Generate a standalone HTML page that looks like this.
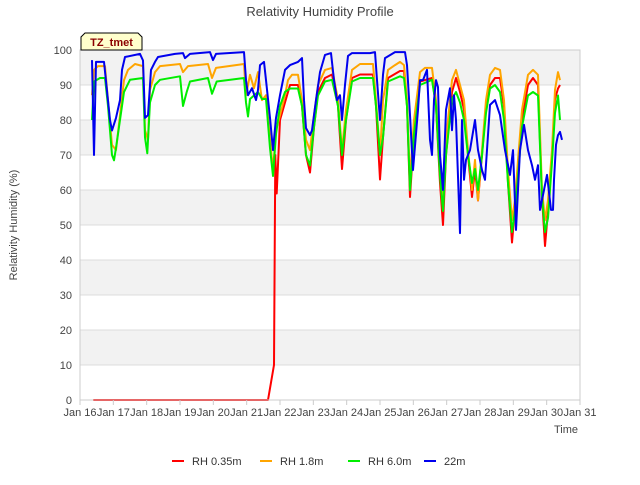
<!DOCTYPE html>
<html><head><meta charset="utf-8"><style>
body{margin:0;background:#fff;font-family:"Liberation Sans",sans-serif;}
svg text{font-family:"Liberation Sans",sans-serif;}
</style></head><body>
<svg id="c" width="640" height="480" xmlns="http://www.w3.org/2000/svg">
<text x="320" y="16" text-anchor="middle" font-size="13" fill="#444">Relativity Humidity Profile</text>
<g id="grid"></g>
<g id="series"></g>
<g id="axes"></g>
<text transform="translate(17,225) rotate(-90)" text-anchor="middle" font-size="11" fill="#444">Relativity Humidity (%)</text>
<text x="578" y="433" text-anchor="end" font-size="11" fill="#444">Time</text>
<g>
<path d="M81,50 L81,37 L85,33 L138,33 L142,37 L142,50 Z" fill="#ffffcc" stroke="#000" stroke-width="1"/>
<text x="111.5" y="46" text-anchor="middle" font-size="11" font-weight="bold" fill="#8b0000">TZ_tmet</text>
</g>
<g id="legend"></g>
</svg>
<script>
const yTicks=[0,10,20,30,40,50,60,70,80,90,100];
const xTickLabels=["Jan 16","Jan 17","Jan 18","Jan 19","Jan 20","Jan 21","Jan 22","Jan 23","Jan 24","Jan 25","Jan 26","Jan 27","Jan 28","Jan 29","Jan 30","Jan 31"];
const seriesNames=["RH 0.35m","RH 1.8m","RH 6.0m","22m"];
const rhRedT=[0.4,5.64,5.82,5.86,5.9,6.0,6.15,6.3,6.54,6.66,6.78,6.9,7.02,7.14,7.35,7.56,7.74,7.86,7.98,8.16,8.4,8.79,8.88,9.0,9.09,9.24,9.6,9.72,9.81,9.9,10.02,10.2,10.56,10.68,10.8,10.89,10.98,11.16,11.28,11.4,11.52,11.64,11.76,11.85,11.94,12.06,12.18,12.3,12.45,12.6,12.72,12.84,12.96,13.05,13.14,13.26,13.44,13.59,13.74,13.86,13.95,14.04,14.16,14.25,14.34,14.4];
const rhRedV=[0,0,10,70,59,80,85,90,90,84,70,65,78,88,92,93,84,66,80,92,93,93,84,63,75,92,94,94,84,58,76,91,92,84,62,50,70,88,92,88,83,70,58,66,57,70,84,90,92,92,84,62,45,55,66,80,90,92,90,58,44,54,70,86,89,90];
const rhOrangeT=[.36,.42,.54,.75,.84,.96,1.08,1.2,1.32,1.44,1.65,1.89,1.95,2.04,2.1,2.25,2.4,3.0,3.09,3.24,3.84,3.96,4.08,4.92,4.98,5.1,5.22,5.34,5.46,5.58,5.7,5.79,5.88,6.0,6.15,6.24,6.36,6.54,6.66,6.78,6.9,7.02,7.14,7.35,7.56,7.74,7.86,7.98,8.16,8.4,8.79,8.88,9.0,9.09,9.24,9.45,9.6,9.72,9.81,9.9,10.02,10.2,10.35,10.56,10.68,10.8,10.89,10.98,11.16,11.28,11.4,11.52,11.64,11.76,11.85,11.94,12.06,12.18,12.3,12.45,12.6,12.72,12.84,12.96,13.05,13.14,13.26,13.44,13.59,13.74,13.86,13.95,14.04,14.16,14.25,14.34,14.4];
const rhOrangeV=[87.1,94.3,95.4,95.4,85.7,72.9,71.4,81.4,91.4,94.3,96,95.4,77.1,74.3,88.6,93.7,95.4,96,93.7,95.4,96,92,94.9,96,87.1,92.9,89.1,93.7,85.7,87.1,74.3,65.7,77.1,81.4,87.1,91.4,92.9,92.9,85.7,74.3,71.4,81.4,90,94.3,94.9,85.7,71.4,82.9,94.3,96,96,85.7,70,85.7,94.3,95.7,96.6,95.7,85.7,62.9,80,93.7,94.9,94.9,85.7,65.7,57.1,74.3,91.4,94.3,90,85.7,71.4,60,68.6,57.1,71.4,85.7,92.9,94.9,94.3,85.7,65.7,51.4,57.1,68.6,82.9,92.9,94.3,92.9,60,51.4,57.1,71.4,88.6,93.7,91.4];
const rhGreenT=[.36,.42,.6,.75,.84,.96,1.02,1.08,1.2,1.32,1.5,1.89,1.95,2.02,2.1,2.25,2.4,3.0,3.09,3.2,3.3,3.84,3.96,4.1,4.92,4.98,5.04,5.1,5.22,5.34,5.46,5.58,5.7,5.79,5.88,6.0,6.15,6.3,6.54,6.66,6.78,6.9,7.02,7.14,7.35,7.56,7.74,7.86,7.98,8.16,8.4,8.79,8.88,9.0,9.09,9.24,9.6,9.72,9.81,9.9,10.02,10.2,10.56,10.68,10.8,10.89,10.98,11.16,11.28,11.4,11.52,11.64,11.76,11.85,11.94,12.06,12.18,12.3,12.45,12.6,12.72,12.84,12.96,13.05,13.14,13.26,13.44,13.59,13.74,13.86,13.95,14.04,14.16,14.25,14.34,14.4];
const rhGreenV=[80,91,92,92,84,70,68.5,72,80,88,91.5,92,75,70.5,85,90,91.5,92.5,84,88,91,92,87.5,91,92,85,81,86,87,88,86,86,72,64,76,84,88,89,89,84,70,67,78,87,91,91.5,84,70,80,91,92,92,84,70,75,91,92.5,92,84,60,76,90,91.5,84,64,54,70,86,88,85,80,70,62,66,60,70,82,89,90,88,80,62,48,54,64,78,87,88,87,58,48,52,68,82,87,80];
const rhBlueT=[.36,.42,.48,.72,.9,.96,1.08,1.2,1.26,1.35,1.8,1.89,1.95,2.04,2.13,2.25,2.34,2.85,3.09,3.15,3.3,3.9,3.99,4.08,4.92,4.98,5.04,5.16,5.28,5.34,5.4,5.52,5.58,5.7,5.79,5.88,6.0,6.15,6.3,6.54,6.66,6.72,6.78,6.9,6.96,7.08,7.2,7.35,7.53,7.62,7.71,7.8,7.86,7.95,8.04,8.16,8.7,8.85,8.91,9.0,9.09,9.15,9.45,9.75,9.81,9.9,9.99,10.14,10.2,10.29,10.41,10.5,10.56,10.62,10.68,10.74,10.8,10.89,10.98,11.1,11.16,11.22,11.28,11.4,11.46,11.52,11.58,11.7,11.85,11.94,12.06,12.15,12.3,12.45,12.6,12.75,12.9,12.99,13.08,13.14,13.2,13.32,13.44,13.56,13.65,13.74,13.8,13.92,14.01,14.13,14.19,14.22,14.28,14.34,14.4,14.46];
const rhBlueV=[97.1,70,96.6,96.6,80,77,80.6,85.7,94.3,98,98.9,97,80.6,81.4,94.3,96.6,98,98.9,99.1,97.7,98.9,99.4,97.1,98.9,99.4,91.4,87.1,89.1,85.7,88.6,95.7,96.6,91.4,80.6,71.4,80.6,87.1,94.3,95.7,96.6,97.7,85.7,77.7,75.7,77.1,85.7,93.7,98.6,99.1,91.4,85.7,87.1,80,90,98.3,99.1,99.1,99.4,91.4,80,92.9,97.7,99.4,99.4,95.7,81.4,65.7,82.9,91.4,91.4,94.3,74.3,70,85.7,91.4,89.4,70,60,82.9,89.1,77.1,87.1,80,47.7,80,62.9,68.6,71.4,80,71.4,65.7,62.9,84.3,85.7,81.4,71.4,64.3,71.4,48.6,60,71.4,78.6,71.4,67.1,62.9,67.1,54.3,60,64.3,54.3,54.3,62.9,72.9,75.7,76.6,74.3];

const X0=80,X1=580,Y0=400,Y1=50;
const xs=t=>X0+t*(X1-X0)/15;
const ys=v=>Y0-v*(Y0-Y1)/100;
const NS="http://www.w3.org/2000/svg";
function mk(tag,attrs,parent){const e=document.createElementNS(NS,tag);for(const k in attrs)e.setAttribute(k,attrs[k]);parent.appendChild(e);return e;}
const grid=document.getElementById('grid'),axes=document.getElementById('axes'),ser=document.getElementById('series'),leg=document.getElementById('legend');
for(let i=0;i<yTicks.length-1;i++){
  if(i%2===1){const r=mk('rect',{x:X0,y:ys(yTicks[i+1]),width:X1-X0,height:ys(yTicks[i])-ys(yTicks[i+1]),fill:'#f2f2f2'},grid);
  
  }
}
yTicks.forEach(v=>{
  const l=mk('line',{x1:X0,x2:X1,y1:ys(v),y2:ys(v),stroke:'#dcdcdc','stroke-width':1},grid);
  
  
  const t=mk('text',{x:X0-8,y:ys(v)+4,'text-anchor':'end','font-size':11,fill:'#444'},axes);t.textContent=v;
  
  
});
const fr=mk('rect',{x:X0,y:Y1,width:X1-X0,height:Y0-Y1,fill:'none',stroke:'#ccc'},axes);


xTickLabels.forEach((s,i)=>{
  const x=xs(i);
  const tk=mk('line',{x1:x,x2:x,y1:Y0,y2:Y0+5,stroke:'#ccc'},axes);
  
  
  const t=mk('text',{x:x,y:Y0+16,'text-anchor':'middle','font-size':11,fill:'#444'},axes);t.textContent=s;
  
  
});
const colors=['#ff0000','#ffa500','#00ee00','#0000ee'];
const data=[[rhRedT,rhRedV],[rhOrangeT,rhOrangeV],[rhGreenT,rhGreenV],[rhBlueT,rhBlueV]];
const names=['line-rh-0-35m','line-rh-1-8m','line-rh-6-0m','line-22m'];
data.forEach((d,k)=>{
  const pts=d[0].map((t,i)=>xs(t).toFixed(1)+','+ys(d[1][i]).toFixed(1)).join(' ');
  const p=mk('polyline',{points:pts,fill:'none',stroke:colors[k],'stroke-width':2,'stroke-linejoin':'round'},ser);
  
  
});
const lx=[172,260,348,424];
seriesNames.forEach((n,k)=>{
  const g=mk('g',{},leg);
  
  
  mk('line',{x1:lx[k],x2:lx[k]+12,y1:461,y2:461,stroke:colors[k],'stroke-width':2},g);
  const t=mk('text',{x:lx[k]+20,y:465,'font-size':11,fill:'#333'},g);t.textContent=n;
});
</script>
</body></html>
